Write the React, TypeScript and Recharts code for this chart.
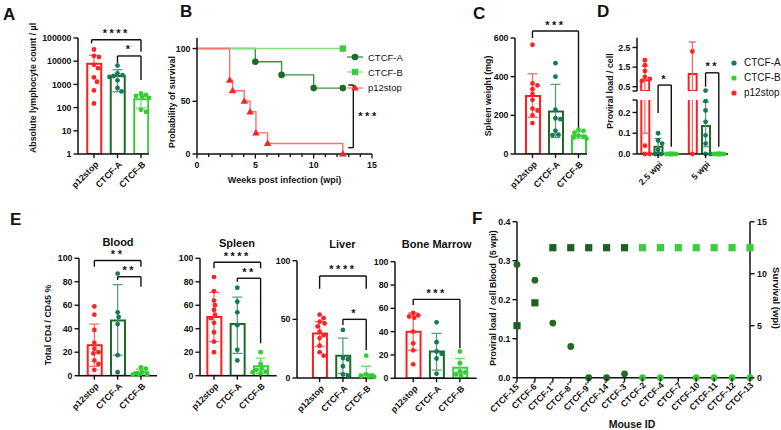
import React from "react";
import {
  ComposedChart,
  Bar,
  Cell,
  Scatter,
  Line,
  XAxis,
  YAxis,
  ReferenceLine,
  Legend,
} from "recharts";

const FONT = "'Liberation Sans', Arial, Helvetica, sans-serif";
const INK = "#111111";
const DOT_R = 2.4;

// Group order and palette shared by the bar/dot panels
const groups = ["p12stop", "CTCF-A", "CTCF-B"];
const barStroke = ["#ff1e1e", "#1e6a26", "#36cd36"];
const dotFill = ["#ff2424", "#16775a", "#31ce31"];
const whisker = ["#f46c6c", "#55a078", "#70dd70"];

// A: absolute lymphocyte count / µl
const lymphMean = [7800, 2300, 230];
const lymphLow = [7800, 480, 95];
const lymphHigh = [18000, 4300, 350];
const lymphPts = [
  [32000, 17000, 15000, 7000, 5000, 2000, 1300, 550, 150],
  [6500, 3000, 2500, 2300, 2100, 1500, 700, 500],
  [410, 350, 320, 290, 260, 80, 65],
];

// B: survival
const survWeeksA = [0, 5, 7.25, 10, 12.5];
const survPctA = [100, 87.5, 75, 62.5, 62.5];
const survWeeksB = [0, 12.5];
const survPctB = [100, 100];
const survWeeksP = [0, 2.8, 3.05, 4.05, 4.55, 5.05, 6.05, 12.5];
const survPctP = [100, 70, 60, 50, 40, 20, 10, 0];

// C: spleen weight (mg)
const spleenWtMean = [300, 220, 95];
const spleenWtLow = [190, 85, 80];
const spleenWtHigh = [415, 360, 115];
const spleenWtPts = [
  [565, 365, 355, 335, 310, 280, 235, 225, 200, 160],
  [470, 400, 230, 185, 180, 120, 100, 98],
  [125, 120, 110, 95, 90, 85, 80],
];

// D: proviral load / cell, per timepoint
const wpiLabels = ["2.5 wpi", "5 wpi"];
const loadMean = [[0.83, 1.15], [0.035, 0.135], [0, 0]];
const loadLow = [[0.1, 0], [0, 0.035], [0, 0]];
const loadHigh = [[1.55, 2.78], [0.075, 0.25], [0, 0]];
const loadPts = [
  [[1.85, 1.6, 1.3, 1.0, 0.9, 0.8, 0.04, 0, 0], [2.3, 0]],
  [[0.1, 0.065, 0.05, 0.02, 0, 0, 0], [0.3, 0.255, 0.21, 0.155, 0.09, 0.05, 0, 0]],
  [[0, 0, 0, 0, 0, 0, 0], [0, 0, 0, 0, 0, 0, 0]],
];

// E: total CD4 / CD45 % per organ
const bloodMean = [26, 47, 3];
const bloodLow = [8, 17.5, 0.5];
const bloodHigh = [44, 77.5, 5.5];
const bloodPts = [
  [59, 52, 39, 28, 23, 20, 19, 13, 10, 5],
  [87, 54, 50, 44, 17.5, 3],
  [7, 6, 3, 2, 1, 1, 0.5],
];
const spleenMean = [50, 44, 8];
const spleenLow = [29, 19, 2];
const spleenHigh = [71, 67, 15];
const spleenPts = [
  [84, 72, 64, 60, 56, 52, 49, 45, 37, 29, 20],
  [75, 63, 54, 43, 22, 13],
  [20, 10, 6, 5, 3.5, 3, 2],
];
const liverMean = [38, 19, 3];
const liverLow = [27, 4, 0];
const liverHigh = [48, 34, 10];
const liverPts = [
  [54, 51, 48, 46.5, 44, 39.5, 36.5, 34, 27.5, 22, 19],
  [41, 17, 16, 10, 3, 2],
  [19, 3, 2, 1.5, 1, 0.5],
];
const boneMean = [40, 23, 9];
const boneLow = [24, 7, 1];
const boneHigh = [56, 38.5, 17];
const bonePts = [
  [56, 54, 53, 52, 40, 30, 24, 12],
  [48, 31, 23, 21, 17, 4],
  [23, 13, 6, 5, 3.5, 2.5],
];

// F: per-mouse proviral load and survival
const mouseIds = [
  "CTCF-15*", "CTCF-6*", "CTCF-1**", "CTCF-8**", "CTCF-9**", "CTCF-14*", "CTCF-3*",
  "CTCF-2", "CTCF-4", "CTCF-7", "CTCF-10", "CTCF-11", "CTCF-12", "CTCF-13",
];
const mouseArm = [1, 1, 1, 1, 1, 1, 1, 2, 2, 2, 2, 2, 2, 2];
const mouseLoad = [0.29, 0.25, 0.14, 0.08, 0, 0, 0.01, 0, 0, null, 0, 0, 0, 0];
const mouseSurvival = [5, 7.2, 12.5, 12.5, 12.5, 12.5, 12.5, 12.5, 12.5, 12.5, 12.5, 12.5, 12.5, 12.5];

type Box = { x: number; y: number; w: number; h: number };
type Plot = { l: number; t: number; r: number; b: number };
type Bracket = { x1: number; x2: number; y: number; yL: number; yR: number; stars: string };
type BarSpec = { x: number; s: number; mean: number; low: number; high: number };
type PointSet = { x: number; s: number; values: number[] };

const triple = (mean: number[], low: number[], high: number[]): BarSpec[] =>
  mean.map((m, s) => ({ x: s, s, mean: m, low: low[s], high: high[s] }));
const triplePts = (pts: number[][]): PointSet[] => pts.map((values, s) => ({ x: s, s, values }));

// greedy beeswarm: shift each dot sideways (px) until it no longer overlaps
function swarm(values: number[], toPx: (v: number) => number, r: number, limit: number) {
  const placed: { dx: number; py: number }[] = [];
  return values.map((v) => {
    const py = toPx(v);
    let chosen = 0;
    let bestGap = -1;
    for (let k = 0; ; k++) {
      const dx = (k % 2 === 1 ? 1 : -1) * Math.ceil(k / 2) || 0;
      if (Math.abs(dx) > limit) break;
      const gap = placed.length
        ? Math.min(...placed.map((p) => Math.hypot(p.dx - dx, p.py - py)))
        : Infinity;
      if (gap >= 2 * r) {
        chosen = dx;
        break;
      }
      if (gap > bestGap) {
        bestGap = gap;
        chosen = dx;
      }
    }
    placed.push({ dx: chosen, py });
    return chosen;
  });
}

const tickText = { fontSize: 8.8, fontWeight: 700, fontFamily: FONT, fill: INK };

function YTickLeft(props: any) {
  const { x, y, payload, fmt } = props;
  return (
    <g>
      <line x1={x} x2={x - 4.5} y1={y} y2={y} stroke={INK} strokeWidth={1.4} />
      <text x={x - 6.5} y={y} dy={3.1} textAnchor="end" {...tickText}>
        {fmt(payload.value)}
      </text>
    </g>
  );
}

function YTickRight(props: any) {
  const { x, y, payload } = props;
  return (
    <g>
      <line x1={x} x2={x + 4.5} y1={y} y2={y} stroke={INK} strokeWidth={1.4} />
      <text x={x + 7} y={y} dy={3.1} textAnchor="start" {...tickText}>
        {payload.value}
      </text>
    </g>
  );
}

// rotated category label; trailing asterisks are set as a superscript
function XTickRot(props: any) {
  const { x, y, baseY, payload, labelOf, shiftX, shiftY } = props;
  const label: string = labelOf(payload.value);
  const m = label.match(/^(.*?)(\*+)$/);
  const ty = baseY ?? y;
  return (
    <g transform={`translate(${x},${ty})`}>
      <line x1={0} x2={0} y1={0} y2={4} stroke={INK} strokeWidth={1.4} />
      <text transform={`translate(${shiftX},${shiftY}) rotate(-45)`} textAnchor="end" {...tickText}>
        {m ? m[1] : label}
        {m && (
          <tspan dy={-3} fontSize={6}>
            {m[2]}
          </tspan>
        )}
      </text>
    </g>
  );
}

const axisLine = { stroke: INK, strokeWidth: 1.5 };
const starLabel = (value: string, position: "top" | "right") => ({
  value,
  position,
  offset: position === "top" ? 2.5 : 5,
  fill: INK,
  fontSize: 11,
  fontWeight: 700,
  fontFamily: FONT,
  letterSpacing: 2.5,
});

function bracketLines(list: Bracket[] | undefined, xId: string, yId: string) {
  if (!list) return [];
  return list.flatMap((b, i) => [
    <ReferenceLine
      key={`h${i}`}
      xAxisId={xId}
      yAxisId={yId}
      ifOverflow="visible"
      segment={[{ x: b.x1, y: b.y }, { x: b.x2, y: b.y }]}
      stroke={INK}
      strokeWidth={1.4}
      label={starLabel(b.stars, "top")}
    />,
    <ReferenceLine
      key={`l${i}`}
      xAxisId={xId}
      yAxisId={yId}
      ifOverflow="visible"
      segment={[{ x: b.x1, y: b.y }, { x: b.x1, y: b.yL }]}
      stroke={INK}
      strokeWidth={1.4}
    />,
    <ReferenceLine
      key={`r${i}`}
      xAxisId={xId}
      yAxisId={yId}
      ifOverflow="visible"
      segment={[{ x: b.x2, y: b.y }, { x: b.x2, y: b.yR }]}
      stroke={INK}
      strokeWidth={1.4}
    />,
  ]);
}

// mean ± SD whiskers, clipped to the plot so the broken axis halves stay tidy
function whiskerLines(bars: BarSpec[], cap: number, xId: string, yId: string) {
  return bars.flatMap((b, i) => {
    if (b.high <= b.low) return [];
    const common = {
      xAxisId: xId,
      yAxisId: yId,
      ifOverflow: "hidden" as const,
      stroke: whisker[b.s],
      strokeWidth: 1.3,
    };
    const lines = [
      <ReferenceLine key={`wv${i}`} {...common} segment={[{ x: b.x, y: b.low }, { x: b.x, y: b.high }]} />,
      <ReferenceLine key={`wt${i}`} {...common} segment={[{ x: b.x - cap, y: b.high }, { x: b.x + cap, y: b.high }]} />,
    ];
    if (b.low < b.mean)
      lines.push(
        <ReferenceLine key={`wb${i}`} {...common} segment={[{ x: b.x - cap, y: b.low }, { x: b.x + cap, y: b.low }]} />
      );
    return lines;
  });
}

interface DotBarProps {
  box: Box;
  plot: Plot;
  xDomain: [number, number];
  bars: BarSpec[];
  points: PointSet[];
  yDomain: [number, number];
  yTicks: number[];
  yFmt?: (v: number) => string;
  log?: boolean;
  xTicks?: number[];
  xLabels?: string[];
  barSize: number;
  cap: number;
  brackets?: Bracket[];
  legend?: React.ReactNode;
}

// bar (mean) + SD whisker + individual dots, one colour per group
function DotBar(p: DotBarProps) {
  const yW = 30;
  const xH = p.xTicks ? 40 : 0;
  const margin = {
    top: p.plot.t - p.box.y,
    left: p.plot.l - p.box.x - yW,
    right: p.box.x + p.box.w - p.plot.r,
    bottom: p.box.y + p.box.h - p.plot.b - xH,
  };
  const scale = p.log ? "log" : "linear";
  const [d0, d1] = p.yDomain;
  // a bar lying wholly under this axis segment has nothing to show here
  const shown = p.bars.filter((b) => b.mean >= d0 || d0 <= 0);
  const rows = shown.map((b) => ({ x: b.x, s: b.s, mean: b.mean }));
  const H = p.plot.b - p.plot.t;
  const toPx = p.log
    ? (v: number) => ((Math.log10(v) - Math.log10(d0)) / (Math.log10(d1) - Math.log10(d0))) * H
    : (v: number) => ((v - d0) / (d1 - d0)) * H;
  const pxPerX = (p.plot.r - p.plot.l) / (p.xDomain[1] - p.xDomain[0]);
  const dots = groups.map(() => [] as { x: number; y: number }[]);
  p.points.forEach((ps) => {
    const vals = ps.values.filter((v) => v >= d0 && v <= d1);
    const offs = swarm(vals, toPx, DOT_R, p.barSize / 2 + 1.5);
    vals.forEach((v, i) => dots[ps.s].push({ x: ps.x + offs[i] / pxPerX, y: v }));
  });
  const fmt = p.yFmt ?? ((v: number) => String(v));
  const labelOf = (v: number) => {
    const i = (p.xTicks ?? []).findIndex((t) => Math.abs(t - v) < 1e-6);
    return i >= 0 && p.xLabels ? p.xLabels[i] : "";
  };
  const axisY = p.plot.b - p.box.y;

  return (
    <div style={{ position: "absolute", left: p.box.x, top: p.box.y, width: p.box.w, height: p.box.h, overflow: "hidden" }}>
      <ComposedChart width={p.box.w} height={p.box.h} data={rows} margin={margin}>
        <XAxis
          xAxisId="main"
          type="number"
          dataKey="x"
          domain={p.xDomain}
          hide={!p.xTicks}
          ticks={p.xTicks}
          interval={0}
          height={xH}
          tickSize={0}
          tickMargin={0}
          tickLine={false}
          axisLine={axisLine}
          tick={(tp: any) => <XTickRot {...tp} baseY={axisY} labelOf={labelOf} shiftX={5} shiftY={11} />}
        />
        <XAxis
          xAxisId="bars"
          type="number"
          dataKey="x"
          domain={p.xDomain}
          ticks={p.xDomain}
          allowDataOverflow
          height={0}
          hide
        />
        <YAxis
          yAxisId="y"
          type="number"
          scale={scale}
          domain={p.yDomain}
          allowDataOverflow
          ticks={p.yTicks}
          interval={0}
          width={yW}
          tickSize={0}
          tickMargin={0}
          tickLine={false}
          axisLine={axisLine}
          tick={(tp: any) => <YTickLeft {...tp} fmt={fmt} />}
        />
        <YAxis yAxisId="ys" type="number" dataKey="y" scale={scale} domain={p.yDomain} width={0} hide />
        <Bar
          xAxisId="bars"
          yAxisId="y"
          dataKey="mean"
          barSize={p.barSize}
          fill="none"
          strokeWidth={2}
          isAnimationActive={false}
        >
          {rows.map((r, i) => (
            <Cell key={i} fill="none" stroke={barStroke[r.s]} />
          ))}
        </Bar>
        {whiskerLines(shown, p.cap / pxPerX, "main", "y")}
        {groups.map((g, s) =>
          dots[s].length ? (
            <Scatter
              key={g}
              xAxisId="main"
              yAxisId="ys"
              data={dots[s]}
              isAnimationActive={false}
              shape={(sp: any) => <circle cx={sp.cx} cy={sp.cy} r={DOT_R} fill={dotFill[s]} />}
            />
          ) : null
        )}
        {bracketLines(p.brackets, "main", "y")}
        {p.legend}
      </ComposedChart>
    </div>
  );
}

const eTicks = [0, 20, 40, 60, 80, 100];

// ---- B: Kaplan–Meier survival ----
const survSeries = [
  { name: "CTCF-A", weeks: survWeeksA, pct: survPctA, line: "#3f8f45", mark: "#1d6b25", shape: "circle" },
  { name: "CTCF-B", weeks: survWeeksB, pct: survPctB, line: "#82e082", mark: "#3dcc3d", shape: "square" },
  { name: "p12stop", weeks: survWeeksP, pct: survPctP, line: "#ff7070", mark: "#ff2020", shape: "triangle" },
];

function Marker({ shape, x, y, color }: { shape: string; x: number; y: number; color: string }) {
  if (shape === "square") return <rect x={x - 3.2} y={y - 3.2} width={6.4} height={6.4} fill={color} />;
  if (shape === "triangle")
    return <polygon points={`${x},${y - 3.9} ${x + 3.7},${y + 2.6} ${x - 3.7},${y + 2.6}`} fill={color} />;
  return <circle cx={x} cy={y} r={3.3} fill={color} />;
}

function WeekTick(props: any) {
  const { x, y, payload } = props;
  const major = payload.value % 5 === 0;
  return (
    <g>
      <line x1={x} x2={x} y1={y} y2={y + (major ? 4.5 : 3)} stroke={INK} strokeWidth={1.3} />
      {major && (
        <text x={x} y={y + 14} textAnchor="middle" {...tickText}>
          {payload.value}
        </text>
      )}
    </g>
  );
}

function SurvLegend() {
  return (
    <div style={{ fontFamily: FONT, fontSize: 9.5, color: INK }}>
      {survSeries.map((s) => (
        <div key={s.name} style={{ display: "flex", alignItems: "center", height: 15.3 }}>
          <svg width={16} height={10}>
            <line x1={0} x2={16} y1={5} y2={5} stroke={s.line} strokeWidth={1.3} />
            <Marker shape={s.shape} x={8} y={5} color={s.mark} />
          </svg>
          <span style={{ marginLeft: 5 }}>{s.name}</span>
        </div>
      ))}
    </div>
  );
}

function SurvivalPanel() {
  const box = { x: 160, y: 0, w: 260, h: 215 };
  const plot = { l: 197, t: 38, r: 372, b: 154 };
  return (
    <div style={{ position: "absolute", left: box.x, top: box.y, width: box.w, height: box.h, overflow: "hidden" }}>
      <ComposedChart
        width={box.w}
        height={box.h}
        margin={{ top: plot.t - box.y, left: plot.l - box.x - 30, right: box.x + box.w - plot.r, bottom: box.h - plot.b - 40 }}
      >
        <XAxis
          type="number"
          dataKey="t"
          domain={[0, 15]}
          ticks={Array.from({ length: 16 }, (_, i) => i)}
          interval={0}
          height={40}
          tickSize={0}
          tickMargin={0}
          tickLine={false}
          axisLine={axisLine}
          tick={(tp: any) => <WeekTick {...tp} />}
        />
        <YAxis
          type="number"
          domain={[0, 110]}
          ticks={[0, 50, 100]}
          interval={0}
          width={30}
          tickSize={0}
          tickMargin={0}
          tickLine={false}
          axisLine={axisLine}
          tick={(tp: any) => <YTickLeft {...tp} fmt={String} />}
        />
        {survSeries.map((s) => (
          <Line
            key={s.name}
            data={s.weeks.map((t, i) => ({ t, p: s.pct[i] }))}
            dataKey="p"
            type="stepAfter"
            stroke={s.line}
            strokeWidth={1.4}
            isAnimationActive={false}
            dot={(dp: any) =>
              dp.index === 0 ? (
                <g key={`d${dp.index}`} />
              ) : (
                <Marker key={`d${dp.index}`} shape={s.shape} x={dp.cx} y={dp.cy} color={s.mark} />
              )
            }
          />
        ))}
        <ReferenceLine ifOverflow="visible" segment={[{ x: 13.4, y: 65.4 }, { x: 13.4, y: 6 }]} stroke={INK} strokeWidth={1.4} label={starLabel("***", "right")} />
        <ReferenceLine ifOverflow="visible" segment={[{ x: 12.97, y: 65.4 }, { x: 13.4, y: 65.4 }]} stroke={INK} strokeWidth={1.4} />
        <ReferenceLine ifOverflow="visible" segment={[{ x: 12.97, y: 6 }, { x: 13.4, y: 6 }]} stroke={INK} strokeWidth={1.4} />
        <Legend
          verticalAlign="middle"
          layout="horizontal"
          wrapperStyle={{ left: 347 - box.x, top: 49.5 - box.y, width: "auto" }}
          content={() => <SurvLegend />}
        />
      </ComposedChart>
    </div>
  );
}

// ---- D: proviral load, broken axis made of two stacked plots ----
const loadOrder = [1, 2, 0];
function LoadLegend() {
  return (
    <div style={{ fontFamily: FONT, fontSize: 10, color: INK }}>
      {loadOrder.map((s) => (
        <div key={s} style={{ display: "flex", alignItems: "center", height: 15.2 }}>
          <svg width={8} height={8}>
            <circle cx={4} cy={4} r={2.6} fill={dotFill[s]} />
          </svg>
          <span style={{ marginLeft: 6 }}>{groups[s]}</span>
        </div>
      ))}
    </div>
  );
}

const loadBars: BarSpec[] = groups.flatMap((_, s) =>
  wpiLabels.map((__, g) => ({ x: g * 3.6 + s, s, mean: loadMean[s][g], low: loadLow[s][g], high: loadHigh[s][g] }))
);
const loadSets: PointSet[] = groups.flatMap((_, s) =>
  wpiLabels.map((__, g) => ({ x: g * 3.6 + s, s, values: loadPts[s][g] }))
);

function ProviralPanel() {
  return (
    <>
      <DotBar
        box={{ x: 590, y: 30, w: 191, h: 185 }}
        plot={{ l: 637, t: 100, r: 728, b: 154 }}
        xDomain={[-0.6, 6.3]}
        bars={loadBars}
        points={loadSets}
        yDomain={[0, 0.26]}
        yTicks={[0, 0.1, 0.2, 0.26]}
        yFmt={(v) => (v > 0.25 ? "" : v.toFixed(1))}
        xTicks={[1, 4.6]}
        xLabels={wpiLabels}
        barSize={8}
        cap={3.5}
        brackets={[
          { x1: 1, x2: 2, y: 0.332, yL: 0.197, yR: 0.035, stars: "*" },
          { x1: 4.6, x2: 5.6, y: 0.391, yL: 0.324, yR: 0.035, stars: "**" },
        ]}
      />
      <DotBar
        box={{ x: 590, y: 0, w: 191, h: 110 }}
        plot={{ l: 637, t: 37.7, r: 728, b: 91 }}
        xDomain={[-0.6, 6.3]}
        bars={loadBars}
        points={loadSets}
        yDomain={[0.28, 3.0]}
        yTicks={[0.28, 0.5, 1.5, 2.5]}
        yFmt={(v) => (v < 0.3 ? "" : v.toFixed(1))}
        barSize={8}
        cap={3.5}
        legend={
          <Legend
            verticalAlign="middle"
            layout="horizontal"
            wrapperStyle={{ left: 730 - 590, top: 55, width: "auto" }}
            content={() => <LoadLegend />}
          />
        }
      />
    </>
  );
}

// ---- F: per-mouse load and survival ----
const mouseRows = mouseIds.map((id, i) => ({ id, load: mouseLoad[i], surv: mouseSurvival[i], arm: mouseArm[i] }));
const armCircle = ["", "#1f6b22", "#33cc33"];
const armSquare = ["", "#1f5f24", "#3ccc3c"];

function MousePanel() {
  const box = { x: 470, y: 215, w: 311, h: 215 };
  const plot = { l: 517, t: 221.7, r: 750, b: 377.7 };
  return (
    <div style={{ position: "absolute", left: box.x, top: box.y, width: box.w, height: box.h, overflow: "hidden" }}>
      <ComposedChart
        width={box.w}
        height={box.h}
        data={mouseRows}
        margin={{ top: plot.t - box.y, left: plot.l - box.x - 30, right: box.x + box.w - plot.r - 25, bottom: box.y + box.h - plot.b - 40 }}
      >
        <XAxis
          dataKey="id"
          type="category"
          interval={0}
          height={40}
          tickSize={0}
          tickMargin={0}
          tickLine={false}
          axisLine={axisLine}
          tick={(tp: any) => <XTickRot {...tp} labelOf={(v: string) => v} shiftX={4} shiftY={8} />}
        />
        <YAxis
          yAxisId="l"
          type="number"
          domain={[0, 0.4]}
          ticks={[0, 0.1, 0.2, 0.3, 0.4]}
          interval={0}
          width={30}
          tickSize={0}
          tickMargin={0}
          tickLine={false}
          axisLine={axisLine}
          tick={(tp: any) => <YTickLeft {...tp} fmt={(v: number) => v.toFixed(1)} />}
        />
        <YAxis
          yAxisId="r"
          orientation="right"
          type="number"
          domain={[0, 15]}
          ticks={[0, 5, 10, 15]}
          interval={0}
          width={25}
          tickSize={0}
          tickMargin={0}
          tickLine={false}
          axisLine={axisLine}
          tick={(tp: any) => <YTickRight {...tp} />}
        />
        <Scatter
          yAxisId="l"
          dataKey="load"
          isAnimationActive={false}
          shape={(sp: any) =>
            sp.payload.load == null ? (
              <g />
            ) : (
              <circle cx={sp.cx} cy={sp.cy} r={3.4} fill={armCircle[sp.payload.arm]} />
            )
          }
        />
        <Scatter
          yAxisId="r"
          dataKey="surv"
          isAnimationActive={false}
          shape={(sp: any) => (
            <rect x={sp.cx - 3.6} y={sp.cy - 3.6} width={7.2} height={7.2} fill={armSquare[sp.payload.arm]} />
          )}
        />
      </ComposedChart>
    </div>
  );
}

// ---- text that sits outside the plot areas ----
function VTitle({ x, y, children, angle = -90, size = 8.8 }: any) {
  return (
    <text
      x={x}
      y={y}
      transform={`rotate(${angle} ${x} ${y})`}
      textAnchor="middle"
      dominantBaseline="central"
      fontSize={size}
      fontWeight={700}
      fontFamily={FONT}
      fill={INK}
      style={{ whiteSpace: "pre" }}
    >
      {children}
    </text>
  );
}

function Annotations() {
  const letter = (t: string, x: number, y: number) => (
    <text x={x} y={y} fontSize={17} fontWeight={700} fontFamily={FONT} fill={INK}>
      {t}
    </text>
  );
  const title = (t: string, x: number, y: number) => (
    <text x={x} y={y} textAnchor="middle" fontSize={11} fontWeight={700} fontFamily={FONT} fill={INK}>
      {t}
    </text>
  );
  return (
    <svg width={781} height={430} style={{ position: "absolute", left: 0, top: 0, pointerEvents: "none" }}>
      {letter("A", 3, 20)}
      {letter("B", 180, 17)}
      {letter("C", 473, 18.5)}
      {letter("D", 597, 17)}
      {letter("E", 10, 225)}
      {letter("F", 472, 224)}
      <VTitle x={33} y={88}>Absolute lymphocyte count / µl</VTitle>
      <VTitle x={171.5} y={102}>Probability of survival</VTitle>
      <text x={284.5} y={182.5} textAnchor="middle" fontSize={9} fontWeight={700} fontFamily={FONT} fill={INK}>
        Weeks post infection (wpi)
      </text>
      <VTitle x={488} y={96}>Spleen weight (mg)</VTitle>
      <VTitle x={610} y={91}>Proviral load / cell</VTitle>
      <VTitle x={48} y={325}>Total CD4 / CD45 %</VTitle>
      {title("Blood", 118, 246)}
      {title("Spleen", 237, 246.5)}
      {title("Liver", 342.5, 248.3)}
      {title("Bone Marrow", 436.7, 248.3)}
      <VTitle x={493} y={298}>{"Proviral load / cell Blood  (5 wpi)"}</VTitle>
      <VTitle x={776} y={298} angle={90} size={9.5}>Survival (wpi)</VTitle>
      <text x={632} y={428} textAnchor="middle" fontSize={10.5} fontWeight={700} fontFamily={FONT} fill={INK}>
        Mouse ID
      </text>
    </svg>
  );
}

export default function App() {
  return (
    <div style={{ position: "absolute", left: 0, top: 0, width: 781, height: 430, background: "#fff", overflow: "hidden" }}>
      <DotBar
        box={{ x: 0, y: 0, w: 180, h: 215 }}
        plot={{ l: 78, t: 38, r: 149, b: 154 }}
        xDomain={[-0.68, 2.34]}
        bars={triple(lymphMean, lymphLow, lymphHigh)}
        points={triplePts(lymphPts)}
        yDomain={[1, 100000]}
        yTicks={[1, 10, 100, 1000, 10000, 100000]}
        log
        xTicks={[0, 1, 2]}
        xLabels={groups}
        barSize={14}
        cap={5}
        brackets={[
          { x1: -0.1, x2: 2, y: 84500, yL: 59000, yR: 25700, stars: "****" },
          { x1: 1, x2: 2, y: 16800, yL: 8100, yR: 1550, stars: "*" },
        ]}
      />
      <SurvivalPanel />
      <DotBar
        box={{ x: 455, y: 0, w: 145, h: 215 }}
        plot={{ l: 515, t: 38, r: 587, b: 154 }}
        xDomain={[-0.76, 2.37]}
        bars={triple(spleenWtMean, spleenWtLow, spleenWtHigh)}
        points={triplePts(spleenWtPts)}
        yDomain={[0, 600]}
        yTicks={[0, 200, 400, 600]}
        xTicks={[0, 1, 2]}
        xLabels={groups}
        barSize={14}
        cap={5}
        brackets={[{ x1: 0, x2: 2, y: 636, yL: 600, yR: 134, stars: "***" }]}
      />
      <ProviralPanel />
      <DotBar
        box={{ x: 34, y: 215, w: 133, h: 215 }}
        plot={{ l: 79, t: 258.3, r: 157, b: 375.7 }}
        xDomain={[-0.66, 2.69]}
        bars={triple(bloodMean, bloodLow, bloodHigh)}
        points={triplePts(bloodPts)}
        yDomain={[0, 100]}
        yTicks={eTicks}
        xTicks={[0, 1, 2]}
        xLabels={groups}
        barSize={14}
        cap={5}
        brackets={[
          { x1: 0, x2: 2, y: 98.1, yL: 92.8, yR: 92.8, stars: "**" },
          { x1: 1, x2: 2, y: 84.3, yL: 81.5, yR: 75.8, stars: "**" },
        ]}
      />
      <DotBar
        box={{ x: 155, y: 215, w: 132, h: 215 }}
        plot={{ l: 200, t: 258.3, r: 276.7, b: 375.7 }}
        xDomain={[-0.6, 2.69]}
        bars={triple(spleenMean, spleenLow, spleenHigh)}
        points={triplePts(spleenPts)}
        yDomain={[0, 100]}
        yTicks={eTicks}
        xTicks={[0, 1, 2]}
        xLabels={groups}
        barSize={14}
        cap={5}
        brackets={[
          { x1: 0, x2: 2, y: 96.6, yL: 91.5, yR: 91.5, stars: "****" },
          { x1: 1, x2: 2, y: 83, yL: 80, yR: 27.6, stars: "**" },
        ]}
      />
      <DotBar
        box={{ x: 251.7, y: 215, w: 133, h: 215 }}
        plot={{ l: 296.7, t: 260.7, r: 375, b: 378 }}
        xDomain={[-0.97, 2.39]}
        bars={triple(liverMean, liverLow, liverHigh)}
        points={triplePts(liverPts)}
        yDomain={[0, 100]}
        yTicks={[0, 50, 100]}
        xTicks={[0, 1, 2]}
        xLabels={groups}
        barSize={14}
        cap={5}
        brackets={[
          { x1: 0, x2: 2, y: 87, yL: 76, yR: 76, stars: "****" },
          { x1: 1, x2: 2, y: 50, yL: 45.2, yR: 23.9, stars: "*" },
        ]}
      />
      <DotBar
        box={{ x: 350, y: 215, w: 137, h: 215 }}
        plot={{ l: 395, t: 261.7, r: 476.7, b: 378.3 }}
        xDomain={[-0.78, 2.72]}
        bars={triple(boneMean, boneLow, boneHigh)}
        points={triplePts(bonePts)}
        yDomain={[0, 100]}
        yTicks={eTicks}
        xTicks={[0, 1, 2]}
        xLabels={groups}
        barSize={14}
        cap={5}
        brackets={[{ x1: 0, x2: 2, y: 67.7, yL: 62.9, yR: 25.7, stars: "***" }]}
      />
      <MousePanel />
      <Annotations />
    </div>
  );
}
